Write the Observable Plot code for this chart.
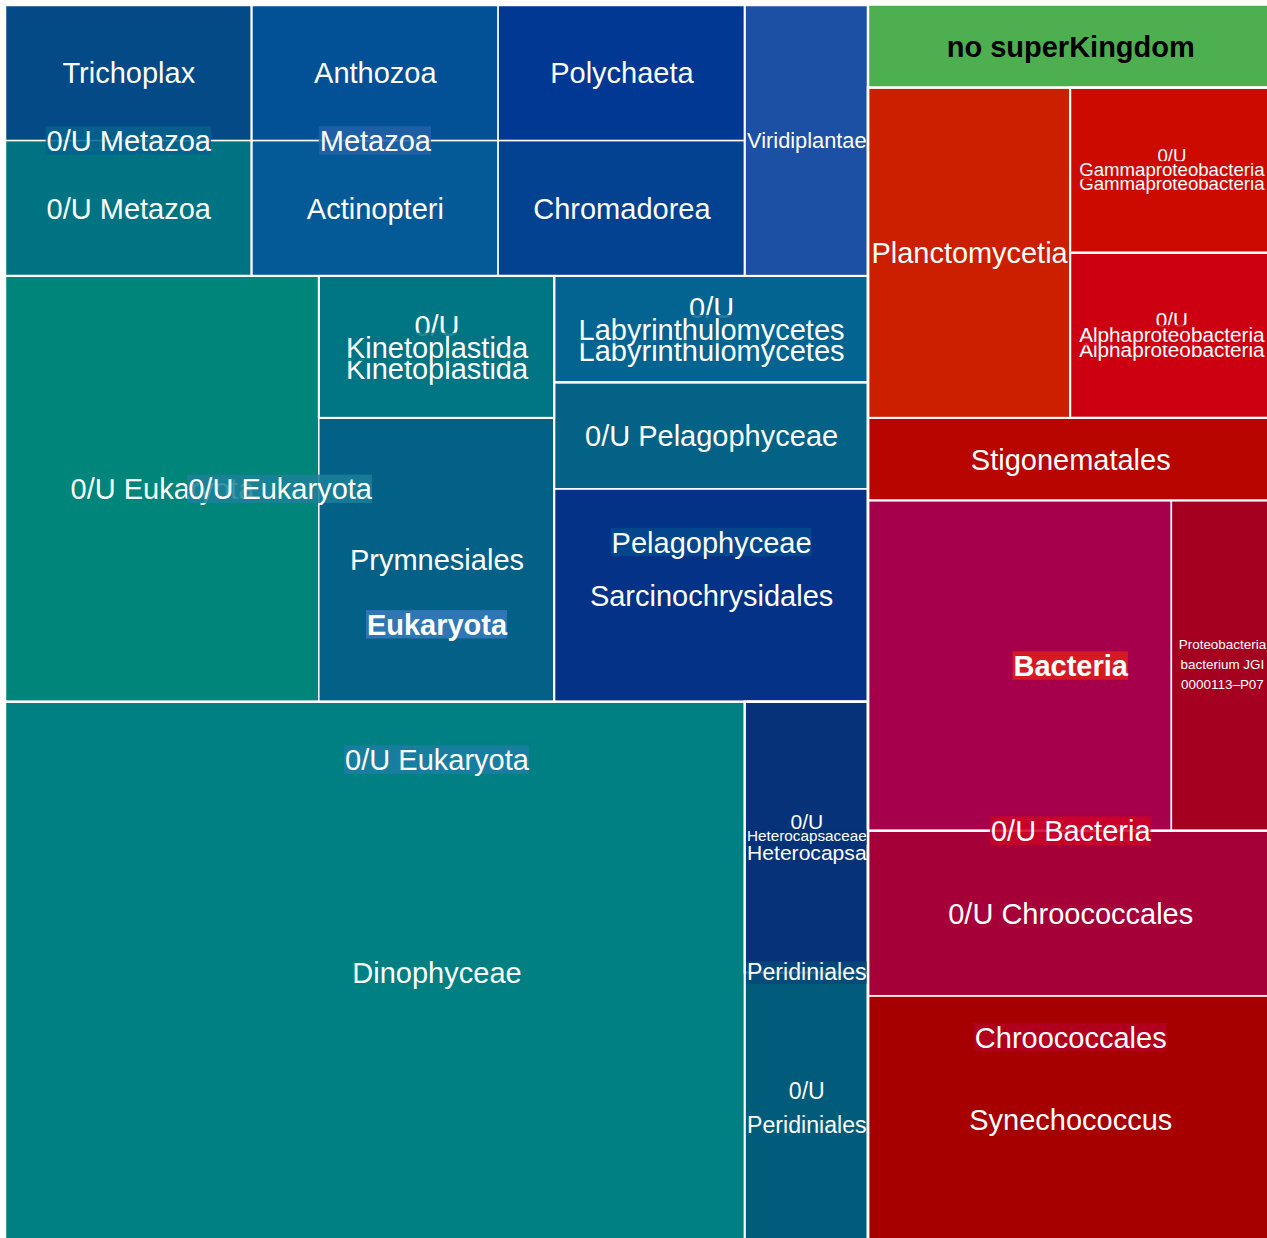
<!DOCTYPE html>
<html>
<head>
<meta charset="utf-8">
<script src="https://cdn.jsdelivr.net/npm/d3@7"></script>
<script src="https://cdn.jsdelivr.net/npm/@observablehq/plot@0.6"></script>
<style>
  html, body { margin: 0; padding: 0; background: #ffffff; }
  #chart { width: 1267px; height: 1238px; overflow: hidden; position: relative; background: #ffffff; }
</style>
</head>
<body>
<div id="chart"></div>
<script>
// ---------------- DATA ----------------
// Taxonomic path of every leaf (levels separated by "|"), in data order.
const leafPaths = [
  "Eukaryota|Metazoa|0/U Metazoa|0/U Metazoa",
  "Eukaryota|Metazoa|0/U Metazoa|Trichoplax",
  "Eukaryota|Metazoa|Actinopteri",
  "Eukaryota|Metazoa|Anthozoa",
  "Eukaryota|Metazoa|Chromadorea",
  "Eukaryota|Metazoa|Polychaeta",
  "Eukaryota|Viridiplantae",
  "Eukaryota|0/U Eukaryota|Dinophyceae|0/U Dinophyceae",
  "Eukaryota|0/U Eukaryota|Dinophyceae|Peridiniales|0/U Peridiniales",
  "Eukaryota|0/U Eukaryota|Dinophyceae|Peridiniales|Heterocapsaceae|0/U Heterocapsa",
  "Eukaryota|0/U Eukaryota|0/U Eukaryota|0/U Eukaryota",
  "Eukaryota|0/U Eukaryota|0/U Eukaryota|Prymnesiales",
  "Eukaryota|0/U Eukaryota|0/U Eukaryota|Kinetoplastida|0/U Kinetoplastida",
  "Eukaryota|0/U Eukaryota|Pelagophyceae|Sarcinochrysidales",
  "Eukaryota|0/U Eukaryota|Pelagophyceae|0/U Pelagophyceae",
  "Eukaryota|0/U Eukaryota|Labyrinthulomycetes|0/U Labyrinthulomycetes",
  "Bacteria|Planctomycetia",
  "Bacteria|Alphaproteobacteria|0/U Alphaproteobacteria",
  "Bacteria|Gammaproteobacteria|0/U Gammaproteobacteria",
  "Bacteria|0/U Bacteria|Chroococcales|Synechococcus",
  "Bacteria|0/U Bacteria|Chroococcales|0/U Chroococcales",
  "Bacteria|0/U Bacteria|0/U Bacteria|0/U Bacteria",
  "Bacteria|0/U Bacteria|0/U Bacteria|Proteobacteria bacterium JGI 0000113–P07",
  "Bacteria|0/U Bacteria|Stigonematales",
  "no superKingdom"
];
// Size (count) of every leaf, same order as leafPaths.
const leafValues = [1, 1, 1, 1, 1, 1, 1, 12, 1, 1, 4, 2, 1, 2, 1, 1, 2, 1, 1, 3, 2, 3, 1, 1, 1];

// ---------------- STYLES ----------------
const nodeColors = {
  // leaves
  "Eukaryota|Metazoa|0/U Metazoa|0/U Metazoa": "#007383",
  "Eukaryota|Metazoa|0/U Metazoa|Trichoplax": "#034a87",
  "Eukaryota|Metazoa|Actinopteri": "#035a96",
  "Eukaryota|Metazoa|Anthozoa": "#025096",
  "Eukaryota|Metazoa|Chromadorea": "#034291",
  "Eukaryota|Metazoa|Polychaeta": "#003894",
  "Eukaryota|Viridiplantae": "#1c50a5",
  "Eukaryota|0/U Eukaryota|Dinophyceae|0/U Dinophyceae": "#008082",
  "Eukaryota|0/U Eukaryota|Dinophyceae|Peridiniales|0/U Peridiniales": "#005c7a",
  "Eukaryota|0/U Eukaryota|Dinophyceae|Peridiniales|Heterocapsaceae|0/U Heterocapsa": "#053278",
  "Eukaryota|0/U Eukaryota|0/U Eukaryota|0/U Eukaryota": "#00857a",
  "Eukaryota|0/U Eukaryota|0/U Eukaryota|Prymnesiales": "#036087",
  "Eukaryota|0/U Eukaryota|0/U Eukaryota|Kinetoplastida|0/U Kinetoplastida": "#007583",
  "Eukaryota|0/U Eukaryota|Pelagophyceae|Sarcinochrysidales": "#033287",
  "Eukaryota|0/U Eukaryota|Pelagophyceae|0/U Pelagophyceae": "#036285",
  "Eukaryota|0/U Eukaryota|Labyrinthulomycetes|0/U Labyrinthulomycetes": "#036491",
  "Bacteria|Planctomycetia": "#cc1f00",
  "Bacteria|Alphaproteobacteria|0/U Alphaproteobacteria": "#cd0011",
  "Bacteria|Gammaproteobacteria|0/U Gammaproteobacteria": "#cd0a00",
  "Bacteria|0/U Bacteria|Chroococcales|Synechococcus": "#a60000",
  "Bacteria|0/U Bacteria|Chroococcales|0/U Chroococcales": "#a60038",
  "Bacteria|0/U Bacteria|0/U Bacteria|0/U Bacteria": "#a6004d",
  "Bacteria|0/U Bacteria|0/U Bacteria|Proteobacteria bacterium JGI 0000113–P07": "#a60021",
  "Bacteria|0/U Bacteria|Stigonematales": "#b90500",
  "no superKingdom": "#4eaf50",
  // groups (label background colours)
  "Eukaryota": "#357abb",
  "Bacteria": "#de1e1d",
  "Eukaryota|Metazoa": "#2361a7",
  "Eukaryota|Metazoa|0/U Metazoa": "#03628d",
  "Eukaryota|0/U Eukaryota": "#1c7ea5",
  "Eukaryota|0/U Eukaryota|0/U Eukaryota": "#1c8099",
  "Eukaryota|0/U Eukaryota|Dinophyceae": "#008082",
  "Eukaryota|0/U Eukaryota|Dinophyceae|Peridiniales": "#05487a",
  "Eukaryota|0/U Eukaryota|Pelagophyceae": "#03498d",
  "Bacteria|0/U Bacteria": "#cd0027",
  "Bacteria|0/U Bacteria|Chroococcales": "#b30023",
  "Bacteria|0/U Bacteria|0/U Bacteria": "#a6004d"
};

const SEP = "|";
const FONT = "Liberation Sans, Arial, Helvetica, sans-serif";
const EXTENT = [1267.5, 1238.5];   // treemap area (px), cropped by the picture frame
const OFFSET = 5;                  // top/left white margin
const FRAME = [1267 - OFFSET, 1238 - OFFSET]; // visible part, in layout units
const BASE_FS = 29, BOLD_FS = 29, FIT = 0.97, LH = 1.47, OVERLAP = 0.5;

// ---------------- HIERARCHY ----------------
const rootObj = {name: "root", path: "", children: []};
leafPaths.forEach((p, i) => {
  const parts = p.split(SEP);
  let cur = rootObj;
  parts.forEach((name, j) => {
    const path = parts.slice(0, j + 1).join(SEP);
    let child = cur.children.find(c => c.name === name);
    if (!child) { child = {name, path, children: []}; cur.children.push(child); }
    if (j === parts.length - 1) child.value = leafValues[i];
    cur = child;
  });
});
(function clean(n) { if (!n.children.length) delete n.children; else n.children.forEach(clean); })(rootObj);

const root = d3.hierarchy(rootObj).sum(d => d.value || 0);

// ordered pivot-by-size tiling (pivot = largest, placed from the lower-left corner)
function aspect(r) {
  const w = r[2] - r[0], h = r[3] - r[1];
  if (w <= 0 || h <= 0) return Infinity;
  return Math.max(w / h, h / w);
}
function place(items, x0, y0, x1, y1) {
  if (!items.length) return;
  if (items.length === 1) { const n = items[0]; n.x0 = x0; n.y0 = y0; n.x1 = x1; n.y1 = y1; return; }
  const total = d3.sum(items, d => d.value);
  const W = x1 - x0, H = y1 - y0;
  const P = items[0], rest = items.slice(1);
  let best = null;
  for (let k = 0; k <= rest.length; k++) {
    const L2 = rest.slice(0, k), L3 = rest.slice(k);
    const s2 = d3.sum(L2, d => d.value), sp = P.value;
    let rP, r2, r3;
    if (W >= H) {
      const cw = W * (sp + s2) / total, ph = H * sp / (sp + s2);
      rP = [x0, y1 - ph, x0 + cw, y1]; r2 = [x0, y0, x0 + cw, y1 - ph]; r3 = [x0 + cw, y0, x1, y1];
    } else {
      const rh = H * (sp + s2) / total, pw = W * sp / (sp + s2);
      rP = [x0, y1 - rh, x0 + pw, y1]; r2 = [x0 + pw, y1 - rh, x1, y1]; r3 = [x0, y0, x1, y1 - rh];
    }
    let worst = aspect(rP);
    if (L2.length) worst = Math.max(worst, aspect(r2));
    if (L3.length) worst = Math.max(worst, aspect(r3));
    if (!best || worst < best.worst) best = {worst, L2, L3, rP, r2, r3};
  }
  [P.x0, P.y0, P.x1, P.y1] = best.rP;
  place(best.L2, ...best.r2);
  place(best.L3, ...best.r3);
}
function pivotTile(parent, x0, y0, x1, y1) {
  const items = parent.children.slice().sort((a, b) => b.value - a.value);
  place(items, x0, y0, x1, y1);
}
d3.treemap().tile(pivotTile).size(EXTENT).round(false)(root);

function colorOf(n) {
  let c = nodeColors[n.data.path];
  let m = n;
  while (!c && m.children && m.children.length === 1) { m = m.children[0]; c = nodeColors[m.data.path]; }
  return c || "#888888";
}

// ---------------- LABELS ----------------
const ctx = document.createElement("canvas").getContext("2d");
function measure(s, fs, bold) {
  ctx.font = (bold ? "bold " : "") + fs + "px \"Liberation Sans\", Arial, sans-serif";
  return ctx.measureText(s).width;
}
function partitions(words, n) {
  if (n === 1) return [[words]];
  const out = [];
  for (let i = 1; i <= words.length - n + 1; i++) {
    for (const rest of partitions(words.slice(i), n - 1)) out.push([words.slice(0, i), ...rest]);
  }
  return out;
}
function fitLabel(name, w, h, base, bold) {
  const words = name.split(" ");
  let best = null;
  for (let n = 1; n <= words.length; n++) {
    for (const parts of partitions(words, n)) {
      const lines = parts.map(p => p.join(" "));
      const maxW = d3.max(lines, t => measure(t, base, bold));
      const fs = Math.min(base, base * FIT * w / maxW, FIT * h / (1 + (n - 1) * LH));
      if (!best || fs > best.fs + 1e-6) best = {fs, lines};
    }
  }
  best.width = d3.max(best.lines, t => measure(t, best.fs, bold));
  best.height = best.fs * (1 + (best.lines.length - 1) * LH);
  return best;
}

const candidates = root.descendants().filter(n => n.depth >= 1).map(n => {
  const bold = n.depth === 1;
  const cx = (n.x0 + n.x1) / 2, cy = (n.y0 + n.y1) / 2;
  // room available around the centre, inside the rectangle and inside the visible frame
  const w = 2 * Math.min(cx - n.x0, Math.max(0, FRAME[0] - cx));
  const h = 2 * Math.min(cy - n.y0, Math.max(0, FRAME[1] - cy));
  const f = fitLabel(n.data.name, w, h, bold ? BOLD_FS : BASE_FS, bold);
  const color = colorOf(n);
  return {
    node: n, depth: n.depth, bold, internal: !!n.children,
    cx, cy, fs: f.fs, text: f.lines.join("\n"), tw: f.width, th: f.height,
    bx0: cx - f.width / 2, bx1: cx + f.width / 2, by0: cy - f.height / 2, by1: cy + f.height / 2,
    color, tc: d3.lab(color).l > 60 ? "black" : "white"
  };
});
// lower-level labels are hidden when higher-level labels cover more than half of them
candidates.forEach(c => {
  let ov = 0;
  candidates.forEach(o => {
    if (o.depth >= c.depth) return;
    const ix = Math.max(0, Math.min(c.bx1, o.bx1) - Math.max(c.bx0, o.bx0));
    const iy = Math.max(0, Math.min(c.by1, o.by1) - Math.max(c.by0, o.by0));
    ov += ix * iy;
  });
  c.show = ov <= OVERLAP * (c.tw * c.th);
});
const shown = candidates.filter(c => c.show);
const maxDepth = d3.max(shown, c => c.depth);

const labelMarks = [];
for (let d = maxDepth; d >= 1; d--) {
  const lab = shown.filter(c => c.depth === d);
  const bgs = lab.filter(c => c.internal);
  labelMarks.push(Plot.rect(bgs, {
    x1: c => c.cx - c.tw / 2 - 0.5, x2: c => c.cx + c.tw / 2 + 0.5,
    y1: c => c.cy - c.th * 0.49, y2: c => c.cy + c.th * 0.49,
    fill: c => c.color, fillOpacity: 0.86
  }));
  labelMarks.push(Plot.text(lab, {
    x: "cx", y: "cy", text: "text", fontSize: c => c.fs, fill: c => c.tc,
    fontWeight: d === 1 ? "bold" : "normal", lineHeight: LH, dy: -3.5, textAnchor: "middle"
  }));
}

const leaves = root.leaves();
const groups = root.descendants().filter(n => n.depth >= 1 && n.children);

const chart = Plot.plot({
  width: 1267,
  height: 1238,
  margin: 0,
  x: {domain: [0, EXTENT[0]], range: [OFFSET, OFFSET + EXTENT[0]], axis: null},
  y: {domain: [0, EXTENT[1]], range: [OFFSET, OFFSET + EXTENT[1]], axis: null},
  color: {type: "identity"},
  style: {fontFamily: FONT, background: "white", overflow: "hidden"},
  marks: [
    Plot.rect(leaves, {
      x1: n => n.x0, x2: n => n.x1, y1: n => n.y0, y2: n => n.y1,
      fill: n => colorOf(n), stroke: "white", strokeWidth: 1.5
    }),
    Plot.rect(groups, {
      x1: n => n.x0, x2: n => n.x1, y1: n => n.y0, y2: n => n.y1,
      fill: "none", stroke: "white", strokeWidth: n => n.depth === 1 ? 2.5 : 2
    }),
    ...labelMarks
  ]
});
document.getElementById("chart").appendChild(chart);
</script>
</body>
</html>
